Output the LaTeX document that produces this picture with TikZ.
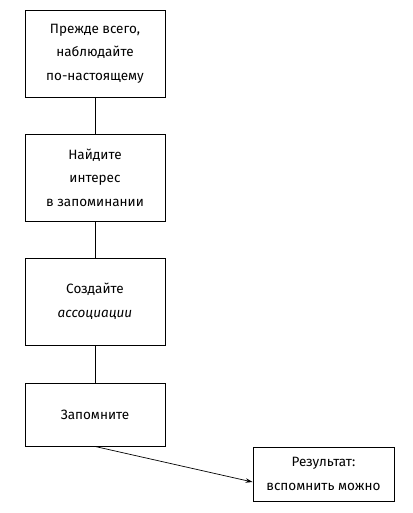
\documentclass[tikz,border=0pt]{standalone}
\usepackage{fontspec}
\setmainfont{Fira Sans}
\usetikzlibrary{arrows.meta}
\begin{document}
\begin{tikzpicture}[x=1pt,y=-1pt,
  box/.style={draw,line width=0.9pt,minimum width=140pt,align=center,inner sep=0pt,font=\fontsize{13.5}{23.5}\selectfont},
  link/.style={line width=0.8pt},
  arr/.style={line width=0.7pt,-{Stealth[length=7pt,width=4.5pt]}}]
\useasboundingbox (0,0) rectangle (412,513);
\node[box,minimum height=87pt] (b1) at (95,53.5) {Прежде всего,\\наблюдайте\\по-настоящему};
\node[box,minimum height=87pt] (b2) at (95,177.5) {Найдите\\интерес\\в запоминании};
\node[box,minimum height=87pt] (b3) at (95,301.5) {Создайте\\\textit{ассоциации}};
\node[box,minimum height=63pt] (b4) at (95,414.5) {Запомните};
\node[box,minimum width=141pt,minimum height=54pt] (b5) at (323.5,474) {\raisebox{-3pt}{Результат:}\\\raisebox{-3pt}{вспомнить можно}};
\draw[link] (b1) -- (b2);
\draw[link] (b2) -- (b3);
\draw[link] (b3) -- (b4);
\draw[arr] (b4.south) -- ([yshift=-8pt]b5.west);
\end{tikzpicture}
\end{document}
